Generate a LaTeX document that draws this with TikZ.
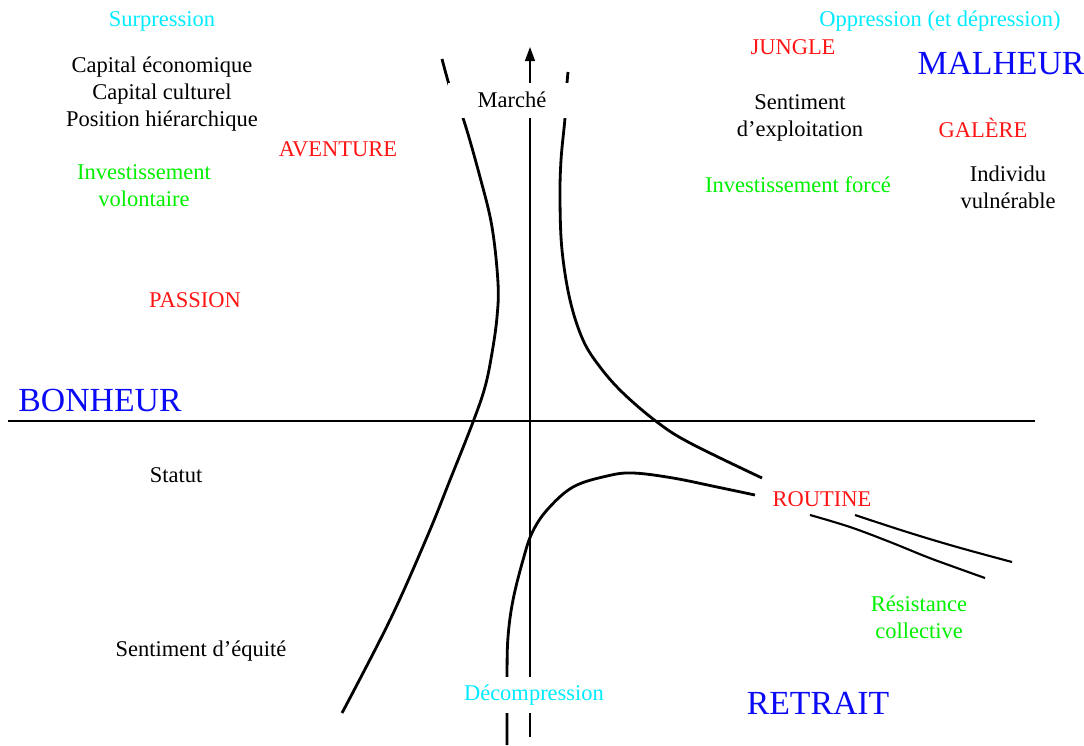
\documentclass[tikz,border=0pt]{standalone}
\usepackage{fontspec}
\setmainfont{Liberation Serif}
\usepackage{xcolor}
\usepackage{tikz}
\usetikzlibrary{arrows.meta}
\definecolor{myred}{RGB}{255,20,20}
\definecolor{mygreen}{RGB}{0,240,0}
\definecolor{mycyan}{RGB}{0,235,255}
\definecolor{myblue}{RGB}{10,10,245}
\definecolor{mydark}{RGB}{0,0,0}
\tikzset{
  lbl/.style={font=\fontsize{16}{19}\selectfont, align=center, inner sep=0pt},
  blacklbl/.style={lbl, text=mydark},
  redlbl/.style={lbl, text=myred},
  greenlbl/.style={lbl, text=mygreen},
  cyanlbl/.style={lbl, text=mycyan},
  bluelbl/.style={font=\fontsize{24}{28}\selectfont, text=myblue, inner sep=0pt},
  curve/.style={line width=2pt, color=mydark},
  thincurve/.style={line width=1.5pt, color=mydark},
  axis/.style={line width=1.3pt, color=mydark}
}

\begin{document}
\begin{tikzpicture}[x=0.025cm, y=-0.025cm]
  \useasboundingbox (0,0) rectangle (1084,745);

  % Left curve
  \draw[curve] plot[smooth, tension=0.6] coordinates {(442,59) (452,94) (463,118) (480,177) (492,227) (498,283) (497,317) (492,353) (485,387) (473,422) (450,480) (427,537) (390,620) (342,713)};

  % Upper right curve
  \draw[curve] plot[smooth, tension=0.6] coordinates {(568,72) (566,95) (565,118) (561,160) (560,200) (562,250) (570,300) (583,340) (600,367) (623,393) (657,422) (690,443) (762,478)};

  % Lower curve
  \draw[curve] plot[smooth, tension=0.6] coordinates {(507,745) (507,677) (508,637) (513,600) (523,560) (532,533) (547,510) (573,487) (607,476) (633,473) (673,478) (717,487) (755,495)};

  % Lines after routine
  \draw[thincurve] plot[smooth, tension=0.6] coordinates {(810,515) (850,527) (890,542) (927,557) (957,568) (985,578)};
  \draw[thincurve] plot[smooth, tension=0.6] coordinates {(855,515) (907,532) (957,547) (1012,562)};

  % Axes
  \draw[axis] (8,421) -- (1035,421);
  \draw[axis, -{Triangle[width=7pt, length=10pt]}] (530,737) -- (530,47);

  % Axis labels
  \node[blacklbl, fill=white, minimum width=3.2cm, minimum height=0.875cm] (marche) at (512,100) {Marché};
  \node[cyanlbl, fill=white, inner xsep=4pt, minimum height=0.9cm] (decomp) at (534,695) {Décompression};

  % Top left
  \node[cyanlbl] (surpression) at (162,21) {Surpression};
  \node[blacklbl] (capital) at (162,94) {Capital économique\\Capital culturel\\Position hiérarchique};
  \node[redlbl] (aventure) at (338,149) {AVENTURE};
  \node[greenlbl] (volontaire) at (144,186) {Investissement\\volontaire};
  \node[redlbl] (passion) at (195,300) {PASSION};
  \node[bluelbl] (bonheur) at (100,400) {BONHEUR};

  % Top right
  \node[cyanlbl] (oppression) at (940,21) {Oppression (et dépression)};
  \node[redlbl] (jungle) at (793,47) {JUNGLE};
  \node[bluelbl] (malheur) at (1001,64) {MALHEUR};
  \node[blacklbl] (exploitation) at (800,118) {Sentiment\\d’exploitation};
  \node[redlbl] (galere) at (983,128) {GALÈRE};
  \node[greenlbl] (force) at (798,185) {Investissement forcé};
  \node[blacklbl] (individu) at (1008,187) {Individu\\vulnérable};

  % Bottom
  \node[blacklbl] (statut) at (176,475) {Statut};
  \node[blacklbl] (equite) at (201,651) {Sentiment d’équité};
  \node[redlbl] (routine) at (822,499) {ROUTINE};
  \node[greenlbl] (resistance) at (919,617) {Résistance\\collective};
  \node[bluelbl] (retrait) at (818,703) {RETRAIT};
\end{tikzpicture}
\end{document}
